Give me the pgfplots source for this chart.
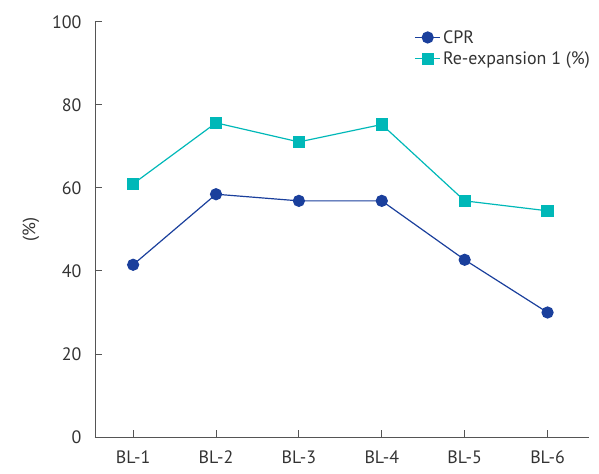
\documentclass[border=0pt]{standalone}
\usepackage{pgfplots}
\pgfplotsset{compat=1.18}
\usepackage{fontspec}
\setmainfont{PT Sans}
\definecolor{cpr}{HTML}{1A3F9C}
\definecolor{reexp}{HTML}{00B8B8}
\definecolor{txt}{HTML}{333333}
\definecolor{ax}{HTML}{555555}
\begin{document}
\begin{tikzpicture}
\begin{axis}[
    scale only axis,
    width=494bp, height=415bp,
    xmin=0.54, xmax=6.5,
    ymin=0, ymax=100,
    axis lines*=left,
    axis line style={ax, line width=1pt},
    every tick/.style={ax, line width=1pt},
    tick align=inside,
    major tick length=7bp,
    xtick={1,2,3,4,5,6},
    xticklabels={BL-1,BL-2,BL-3,BL-4,BL-5,BL-6},
    ytick={0,20,40,60,80,100},
    /pgf/number format/assume math mode=true,
    tick label style={font=\fontsize{18}{20}\selectfont, text=txt},
    xticklabel style={yshift=-10bp},
    yticklabel style={xshift=-10bp},
    ylabel={(\%)},
    ylabel style={font=\fontsize{18}{20}\selectfont, text=txt, yshift=6bp},
    clip=false,
    legend style={draw=none, fill=none, at={(rel axis cs:0.64,0.99)}, anchor=north west,
        font=\fontsize{18}{20}\selectfont, text=txt, row sep=3bp,
        /tikz/every even column/.append style={column sep=4bp}},
    legend cell align=left,
    legend image code/.code={
        \draw[#1, mark repeat=2, mark phase=2] plot coordinates {(0cm,0cm) (0.45cm,0cm) (0.9cm,0cm)};
    },
]
\addplot[cpr, line width=1.2pt, mark=*, mark size=5.5bp, mark options={fill=cpr, draw=cpr}]
    coordinates {(1,41.5) (2,58.5) (3,56.9) (4,56.9) (5,42.7) (6,30.0)};
\addlegendentry{CPR}
\addplot[reexp, line width=1.2pt, mark=square*, mark size=5.5bp, mark options={fill=reexp, draw=reexp}]
    coordinates {(1,61.0) (2,75.7) (3,71.1) (4,75.3) (5,56.9) (6,54.5)};
\addlegendentry{Re-expansion 1 (\%)}
\coordinate (ll) at (rel axis cs:0,0);
\coordinate (ur) at (rel axis cs:1,1);
\end{axis}
\useasboundingbox ([xshift=-95bp,yshift=-37bp]ll) rectangle ([xshift=10bp,yshift=22bp]ur);
\end{tikzpicture}
\end{document}
